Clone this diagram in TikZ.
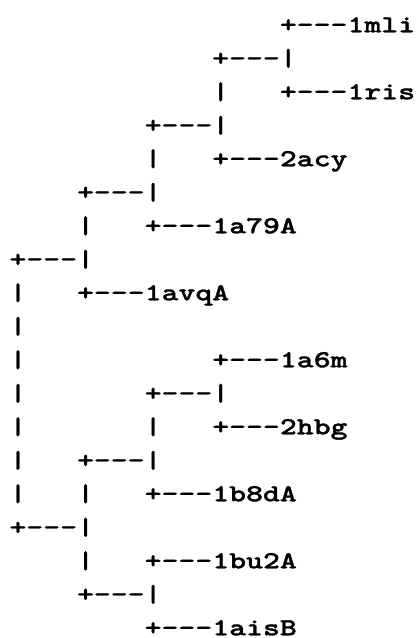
\documentclass[tikz,border=0pt]{standalone}
\usepackage{fontspec}
% serif typewriter face, widened to a Courier-like cell
\newfontfamily\treefont{lmmonolt10-bold.otf}[Ligatures=TeXOff, FakeStretch=1.314, FakeBold=1.2]
\tikzset{
  seg/.style={anchor=base west, inner sep=0pt, outer sep=0pt, text depth=0pt,
    font=\treefont\fontsize{24.5pt}{30pt}\selectfont}
}
% one piece of a text line: name, column, row, text
\newcommand\treeseg[4]{\node[seg] (#1) at (#2+0.562, #3+0.964) {#4};}
\begin{document}
\begin{tikzpicture}[x=16.9pt, y=-33.5pt]
\useasboundingbox (0pt,0pt) rectangle (416pt,-638pt);
\treeseg{mli}{16}{0}{+---1mli}
\treeseg{j1}{12}{1}{+---|}
\treeseg{v2}{12}{2}{|}
\treeseg{ris}{16}{2}{+---1ris}
\treeseg{j3}{8}{3}{+---|}
\treeseg{v4}{8}{4}{|}
\treeseg{acy}{12}{4}{+---2acy}
\treeseg{j5}{4}{5}{+---|}
\treeseg{v6}{4}{6}{|}
\treeseg{aA}{8}{6}{+---1a79A}
\treeseg{j7}{0}{7}{+---|}
\treeseg{v8}{0}{8}{|}
\treeseg{avq}{4}{8}{+---1avqA}
\treeseg{v9}{0}{9}{|}
\treeseg{v10}{0}{10}{|}
\treeseg{a6m}{12}{10}{+---1a6m}
\treeseg{v11}{0}{11}{|}
\treeseg{j11}{8}{11}{+---|}
\treeseg{v12a}{0}{12}{|}
\treeseg{v12b}{8}{12}{|}
\treeseg{hbg}{12}{12}{+---2hbg}
\treeseg{v13}{0}{13}{|}
\treeseg{j13}{4}{13}{+---|}
\treeseg{v14a}{0}{14}{|}
\treeseg{v14b}{4}{14}{|}
\treeseg{bdA}{8}{14}{+---1b8dA}
\treeseg{j15}{0}{15}{+---|}
\treeseg{v16}{4}{16}{|}
\treeseg{buA}{8}{16}{+---1bu2A}
\treeseg{j17}{4}{17}{+---|}
\treeseg{aisB}{8}{18}{+---1aisB}
\end{tikzpicture}
\end{document}
